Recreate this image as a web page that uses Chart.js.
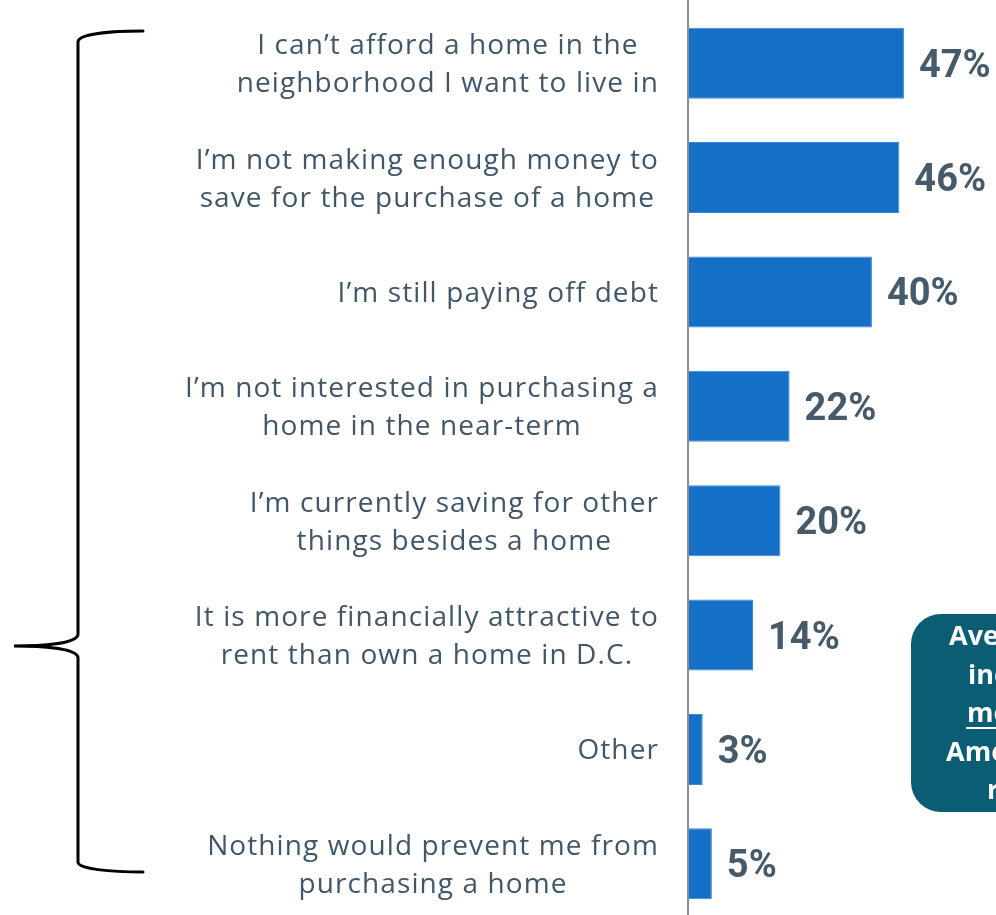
<!DOCTYPE html>
<html>
<head>
<meta charset="utf-8">
<title>Barriers to buying a home</title>
<script src="https://cdn.jsdelivr.net/npm/chart.js@4.4.1/dist/chart.umd.min.js"></script>
<style>
  html, body { margin: 0; padding: 0; background: #ffffff; overflow: hidden; }
  #wrap { position: relative; width: 996px; height: 921px; }
</style>
</head>
<body>
<div id="wrap"><canvas id="reasonsChart"></canvas></div>
<script>
// Survey answers, one entry per bar (multi-line labels as arrays)
const categories = [
  ['I can’t afford a home in the', 'neighborhood I want to live in'],
  ['I’m not making enough money to', 'save for the purchase of a home'],
  ['I’m still paying off debt'],
  ['I’m not interested in purchasing a', 'home in the near-term'],
  ['I’m currently saving for other', 'things besides a home'],
  ['It is more financially attractive to', 'rent than own a home in D.C.'],
  ['Other'],
  ['Nothing would prevent me from', 'purchasing a home']
];
const shares = [47, 46, 40, 22, 20, 14, 3, 5];

// Callout text on the right (runs off the edge of the page)
const calloutLines = ['Average', 'income', 'more', 'American', 'renter'];
const calloutX = [949, 968, 967, 946, 987];

const TEXT_COLOR = '#42566a';
const BAR_COLOR = '#1470c7';

// Category labels: each block right-aligned to the axis, lines centered within the block
const labelPlugin = {
  id: 'blockLabels',
  afterDraw(chart) {
    const ctx = chart.ctx;
    const yScale = chart.scales.y;
    const right = chart.chartArea.left - 30;
    ctx.save();
    ctx.font = '28px "Open Sans"';
    ctx.letterSpacing = '1.1px';
    ctx.fillStyle = TEXT_COLOR;
    ctx.textAlign = 'center';
    ctx.textBaseline = 'middle';
    categories.forEach((lines, i) => {
      const y = yScale.getPixelForValue(i);
      const maxW = Math.max(...lines.map(l => ctx.measureText(l).width));
      const cx = right - maxW / 2;
      const top = y - (lines.length - 1) * 19 + 2;
      lines.forEach((line, j) => ctx.fillText(line, cx, top + j * 38));
    });
    ctx.restore();
  }
};

// Percent labels at the end of each bar
const valuePlugin = {
  id: 'valueLabels',
  afterDatasetsDraw(chart) {
    const ctx = chart.ctx;
    const meta = chart.getDatasetMeta(0);
    ctx.save();
    ctx.font = 'bold 38px Roboto';
    ctx.fillStyle = '#465a69';
    ctx.textAlign = 'left';
    ctx.textBaseline = 'middle';
    meta.data.forEach((bar, i) => {
      ctx.fillText(shares[i] + '%', bar.x + 15, bar.y + 4);
    });
    ctx.restore();
  }
};

// Axis line, left brace and the teal callout box
const decorPlugin = {
  id: 'decor',
  beforeDatasetsDraw(chart) {
    const ctx = chart.ctx;
    const x = chart.chartArea.left - 1;
    ctx.save();
    ctx.strokeStyle = '#8c8c8c';
    ctx.lineWidth = 2;
    ctx.beginPath();
    ctx.moveTo(x, 0);
    ctx.lineTo(x, chart.height);
    ctx.stroke();
    ctx.restore();
  },
  afterDraw(chart) {
    const ctx = chart.ctx;
    ctx.save();

    // brace
    ctx.strokeStyle = '#000000';
    ctx.lineWidth = 3;
    ctx.lineCap = 'round';
    ctx.beginPath();
    ctx.moveTo(143, 31);
    ctx.bezierCurveTo(110, 31, 78, 34, 78, 42);
    ctx.lineTo(78, 634);
    ctx.bezierCurveTo(78, 644, 40, 646, 14, 646);
    ctx.bezierCurveTo(40, 646, 78, 648, 78, 658);
    ctx.lineTo(78, 862);
    ctx.bezierCurveTo(78, 869, 110, 872, 143, 872);
    ctx.stroke();

    // callout box
    ctx.fillStyle = '#0b5d74';
    ctx.beginPath();
    ctx.roundRect(911, 614, 200, 198, 30);
    ctx.fill();

    ctx.fillStyle = '#ffffff';
    ctx.font = 'bold 27px "Open Sans"';
    ctx.textAlign = 'left';
    ctx.textBaseline = 'alphabetic';
    calloutLines.forEach((line, i) => {
      ctx.fillText(line, calloutX[i], 645 + i * 38.5);
    });
    ctx.fillRect(966, 727, 40, 2);
    ctx.restore();
  }
};

new Chart(document.getElementById('reasonsChart'), {
  type: 'bar',
  data: {
    labels: categories,
    datasets: [{
      data: shares,
      backgroundColor: BAR_COLOR,
      borderColor: '#3a89d3',
      borderWidth: 1,
      borderSkipped: 'left',
      barPercentage: 1,
      categoryPercentage: 0.62
    }]
  },
  options: {
    indexAxis: 'y',
    responsive: true,
    maintainAspectRatio: false,
    animation: false,
    layout: { padding: { top: 6, right: 32.6, bottom: 0, left: 0 } },
    plugins: {
      legend: { display: false },
      tooltip: { enabled: false }
    },
    scales: {
      x: {
        display: false,
        min: 0,
        max: 60
      },
      y: {
        grid: { display: false },
        border: { display: false },
        ticks: { display: false },
        afterFit(scale) {
          scale.width = 689;
        }
      }
    }
  },
  plugins: [decorPlugin, labelPlugin, valuePlugin]
});
</script>
</body>
</html>
